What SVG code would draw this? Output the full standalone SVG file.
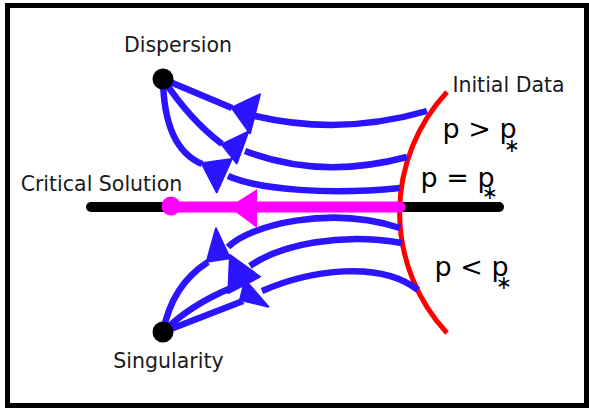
<svg xmlns="http://www.w3.org/2000/svg" width="589" height="408" viewBox="0 0 589 408">
<style>
.lbl{font-family:"DejaVu Sans",Verdana,sans-serif;font-size:20.5px;fill:#1a1a1a}
.pt{font-family:"DejaVu Sans",Verdana,sans-serif;font-size:27px;fill:#000}
.st{font-size:19px;text-anchor:middle}
.flow{fill:none;stroke:#2b14ff;stroke-width:6.5}
.head{fill:#2b14ff;stroke:#2b14ff;stroke-width:2;stroke-linejoin:round}
</style>
<rect x="0" y="0" width="589" height="408" fill="#fff"/>
<rect x="7.5" y="5.5" width="579" height="400" fill="#fff" stroke="#000" stroke-width="5"/>
<g id="critical-solution">
<line x1="91" y1="207" x2="499" y2="207" stroke="#000" stroke-width="10" stroke-linecap="round"/>
<text class="lbl" x="101.5" y="191" text-anchor="middle">Critical Solution</text>
</g>
<g id="initial-data">
<path d="M447,92 A177,177 0 0 0 447,333" fill="none" stroke="#ff0000" stroke-width="5"/>
<text class="lbl" x="508.5" y="92" text-anchor="middle">Initial Data</text>
</g>
<g id="connectors">
<path class="flow" d="M163,79 L232,108"/>
<path class="flow" d="M255,116 Q340,136 427,111"/>
<polygon class="head" points="231.7,107.7 260,94.3 250,133.3"/>
<path class="flow" d="M163,79 Q190,120 222,144"/>
<path class="flow" d="M245,151 Q320,180 407,157"/>
<polygon class="head" points="221.7,144.3 248.3,131.7 236.7,163.3"/>
<path class="flow" d="M163,79 Q164,148 202,164"/>
<path class="flow" d="M228,176 C260,190 330,195 400,188"/>
<polygon class="head" points="201.7,163.3 231.7,159 216.7,192.3"/>
<path class="flow" d="M163,332 Q172,285 208,262"/>
<path class="flow" d="M228,247 C250,225 330,205 400,228"/>
<polygon class="head" points="216,228.3 206.7,261.7 230,258.3"/>
<path class="flow" d="M163,332 Q190,305 231,288"/>
<path class="flow" d="M250,266 C280,245 340,232 402,243"/>
<polygon class="head" points="230,255 260,276.7 228.3,293"/>
<path class="flow" d="M163,332 L243,301"/>
<path class="flow" d="M262,291 C310,270 380,260 418,290"/>
<polygon class="head" points="245,280 268.3,306.7 240,300"/>
<line x1="171" y1="207" x2="400" y2="207" stroke="#ff00ff" stroke-width="11" stroke-linecap="round"/>
<circle cx="171" cy="206" r="9.5" fill="#ff00ff"/>
<polygon points="229,207 257,189 257,228" fill="#ff00ff"/>
</g>
<g id="dispersion">
<circle cx="163" cy="79" r="10.5" fill="#000"/>
<text class="lbl" x="178" y="52" text-anchor="middle">Dispersion</text>
</g>
<g id="singularity">
<circle cx="163" cy="332" r="10.5" fill="#000"/>
<text class="lbl" x="168.5" y="368" text-anchor="middle">Singularity</text>
</g>
<g id="regions">
<text class="pt" x="442.5" y="138">p &gt; p<tspan class="st" x="512" y="152">∗</tspan></text>
<text class="pt" x="420.5" y="186.5">p = p<tspan class="st" x="490" y="199">∗</tspan></text>
<text class="pt" x="434.5" y="276">p &lt; p<tspan class="st" x="504" y="289">∗</tspan></text>
</g>
</svg>
